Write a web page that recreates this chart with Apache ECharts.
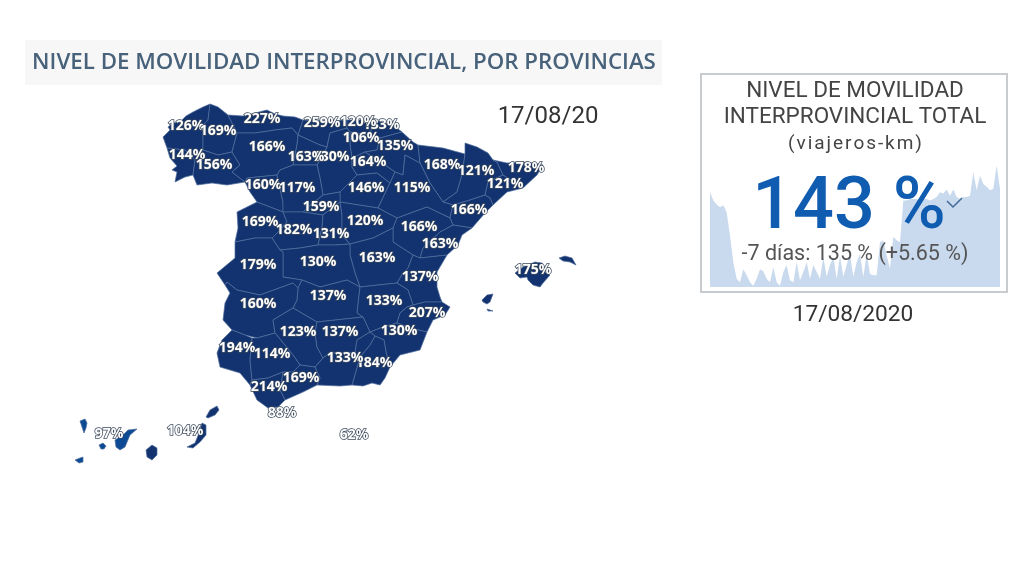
<!DOCTYPE html>
<html>
<head>
<meta charset="utf-8">
<title>Nivel de movilidad interprovincial</title>
<script src="https://cdn.jsdelivr.net/npm/echarts@6/dist/echarts.min.js"></script>
<style>
  html, body { margin: 0; padding: 0; background: #fff; }
  #main { width: 1024px; height: 576px; }
</style>
</head>
<body>
<div id="main"></div>
<script>
// provincias y valores (orden = orden de dibujo de las etiquetas)
var provincias = ['A Coruña', 'Lugo', 'Asturias', 'Cantabria', 'Gipuzkoa', 'Bizkaia', 'Álava', 'Navarra',
    'Pontevedra', 'Ourense', 'León', 'Burgos', 'Palencia', 'La Rioja', 'Huesca', 'Lleida', 'Girona', 'Barcelona',
    'Zamora', 'Valladolid', 'Soria', 'Zaragoza', 'Tarragona', 'Segovia', 'Salamanca', 'Ávila', 'Madrid',
    'Guadalajara', 'Teruel', 'Castellón', 'Cuenca', 'Toledo', 'Cáceres', 'Valencia', 'Ciudad Real', 'Albacete',
    'Badajoz', 'Alicante', 'Córdoba', 'Jaén', 'Murcia', 'Huelva', 'Sevilla', 'Almería', 'Granada', 'Málaga',
    'Cádiz', 'Ceuta', 'Melilla', 'Baleares', 'Santa Cruz de Tenerife', 'Las Palmas'];
var movilidad = [126, 169, 227, 259, 133, 120, 106, 135,
    144, 156, 166, 130, 163, 164, 168, 121, 178, 121,
    160, 117, 146, 115, 166, 159, 169, 182, 131,
    120, 166, 163, 163, 130, 179, 137, 137, 133,
    160, 207, 123, 137, 130, 194, 114, 184, 133, 169,
    214, 88, 62, 175, 97, 104];

var movilidadDiaria = [138, 126, 120, 116, 119, 109, 75, 36, 12, 7, 26, 17, 7, 2, 12, 26, 23, 12, 7, 29, 7, 2,
    22, 32, 10, 7, 36, 10, 22, 36, 12, 32, 22, 12, 44, 15, 32, 44, 12, 45, 15, 32, 48, 15, 36, 48, 15, 48,
    19, 17, 17, 65, 68, 46, 27, 73, 68, 65, 126, 126, 128, 128, 128, 126, 128, 128, 126, 128, 131, 138, 136, 142,
    133, 142, 131, 128, 131, 131, 133, 167, 141, 162, 150, 146, 141, 143, 177, 143];
var diasSerie = movilidadDiaria.map(function (v, i) { return i; });

var tituloMapa = 'NIVEL DE MOVILIDAD INTERPROVINCIAL, POR PROVINCIAS';
var fechaMapa = '17/08/20';
var tituloKpi = ['NIVEL DE MOVILIDAD', 'INTERPROVINCIAL TOTAL', '(\u200Av\u200Ai\u200Aa\u200Aj\u200Ae\u200Ar\u200Ao\u200As\u200A-\u200Ak\u200Am\u200A)'];
var valorKpi = '143 %';
var comparaKpi = '-7 días: 135 % (+5.65 %)';
var fechaKpi = '17/08/2020';

// contornos aproximados de cada provincia, dibujados sobre el lienzo de 1024x576
var contornos = {
    'A Coruña': ['163,137 170,130 168,127 173,123 180,122 186,116 193,112 203,107 210,104 208,120 203,125 203,150 195,160 185,150 167,148'],
    'Lugo': ['210,104 218,107 228,115 237,133 232,152 218,155 203,150 203,125 208,120'],
    'Asturias': ['228,115 243,116 255,113 267,110 275,114 283,116 295,117 303,120 298,135 292,128 275,130 255,133 237,133'],
    'Cantabria': ['303,120 327,121 347,120 347,128 330,133 327,147 320,145 298,135'],
    'Gipuzkoa': ['373,120 393,125 402,132 380,138 370,135'],
    'Bizkaia': ['347,120 373,120 370,135 350,132 347,128'],
    'Álava': ['350,132 370,135 380,138 377,150 365,152 352,158 350,145'],
    'Navarra': ['380,138 402,132 413,142 418,145 420,163 405,155 403,175 395,172 385,165 365,152 377,150'],
    'Pontevedra': ['167,148 185,150 195,160 193,175 185,177 175,182 177,172 172,170 177,166 170,158'],
    'Ourense': ['195,160 203,150 218,155 232,152 240,165 232,172 245,182 227,185 212,183 197,185 193,175'],
    'León': ['237,133 255,133 275,130 292,128 298,135 297,145 293,165 280,170 277,175 247,178 245,182 232,172 240,165 232,152'],
    'Burgos': ['330,133 347,128 350,132 350,145 352,158 352,167 357,175 340,192 323,195 320,178 317,165 327,147'],
    'Palencia': ['298,135 320,145 327,147 317,165 293,165 297,145'],
    'La Rioja': ['352,158 365,152 385,165 395,172 390,183 377,173 357,175 352,167'],
    'Huesca': ['418,145 443,148 465,154 462,175 457,192 443,202 430,183 420,163'],
    'Lleida': ['465,154 465,143 477,147 488,153 493,160 497,162 503,175 488,182 485,195 470,200 453,205 443,202 457,192 462,175'],
    'Girona': ['493,160 507,163 527,162 543,165 540,170 537,175 523,188 503,175 497,162'],
    'Barcelona': ['503,175 523,188 507,192 493,205 490,198 485,195 488,182'],
    'Zamora': ['245,182 247,178 277,175 283,202 283,212 257,202 250,192'],
    'Valladolid': ['293,165 317,165 320,178 323,195 307,208 303,212 283,212 283,202 277,175 280,170'],
    'Soria': ['357,175 377,173 390,183 378,208 340,202 340,192'],
    'Zaragoza': ['420,163 430,183 443,202 453,205 450,218 427,207 397,218 378,208 390,183 395,172 403,175 405,155'],
    'Tarragona': ['453,205 470,200 485,195 490,198 493,205 485,213 472,228 453,225 450,218'],
    'Segovia': ['323,195 340,192 340,202 323,215 303,212 307,208'],
    'Salamanca': ['257,202 283,212 287,222 280,230 272,238 255,238 235,242 238,228 237,212'],
    'Ávila': ['283,212 303,212 323,215 322,228 318,245 300,248 280,250 272,238 280,230 287,222'],
    'Madrid': ['323,215 340,202 342,215 342,235 350,244 335,245 318,245 322,228'],
    'Guadalajara': ['340,202 378,208 397,218 393,228 373,238 350,244 342,235 342,215'],
    'Teruel': ['397,218 427,207 450,218 453,225 440,232 423,248 420,258 413,255 393,242 393,228'],
    'Castellón': ['453,225 472,228 462,235 458,245 447,255 420,258 423,248 440,232'],
    'Cuenca': ['350,244 373,238 393,228 393,242 413,255 408,268 403,273 397,283 378,285 360,287 355,273 350,255'],
    'Toledo': ['283,252 280,250 300,248 318,245 335,245 350,244 350,255 355,273 360,287 347,280 320,287 302,280 283,277'],
    'Cáceres': ['235,242 255,238 272,238 280,250 283,252 283,277 302,280 298,288 293,283 260,295 237,290 227,282 225,285 217,273 235,258'],
    'Valencia': ['413,255 420,258 447,255 437,272 437,287 440,297 442,302 425,302 413,305 408,290 397,283 403,273 408,268'],
    'Ciudad Real': ['302,280 320,287 347,280 360,287 357,313 363,317 317,322 293,308 297,300 298,288'],
    'Albacete': ['360,287 378,285 397,283 408,290 413,305 407,307 400,313 397,323 383,327 370,332 363,317 357,313'],
    'Badajoz': ['225,285 227,282 237,290 260,295 293,283 298,288 297,300 293,308 273,320 275,333 257,338 245,335 232,330 223,320 225,303 230,293'],
    'Alicante': ['413,305 425,302 442,302 450,307 445,315 433,320 427,332 410,328 397,323 400,313 407,307'],
    'Córdoba': ['293,308 317,322 315,333 317,347 323,358 315,367 300,365 293,355 275,333 273,320'],
    'Jaén': ['317,322 363,317 370,332 357,340 355,353 330,353 323,358 317,347 315,333'],
    'Murcia': ['383,327 397,323 410,328 427,332 420,350 400,355 390,367 386,352 384,340 375,336 370,332'],
    'Huelva': ['232,330 245,335 252,338 250,360 252,380 250,385 240,373 220,367 217,353 222,340'],
    'Sevilla': ['252,338 257,338 275,333 293,355 300,365 293,372 283,372 268,378 252,380 250,360'],
    'Almería': ['375,336 384,340 386,352 390,367 385,378 380,385 372,383 363,386 352,385 360,357 370,345'],
    'Granada': ['315,367 323,358 330,353 355,353 357,340 370,332 375,336 370,345 360,357 352,385 340,386 317,385 320,378'],
    'Málaga': ['283,372 293,372 300,365 315,367 320,378 317,385 303,392 285,400 280,390'],
    'Cádiz': ['250,385 252,380 268,378 283,372 280,390 285,400 278,407 268,408 257,400'],
    'Ceuta': ['280,410 282,410 282,412 280,412'],
    'Melilla': ['352,432 354,432 354,434 352,434'],
    'Baleares': ['515,273 523,267 535,262 542,263 545,272 550,275 543,283 540,287 533,285 528,280 527,277 520,278',
        '559,258 565,256 572,258 576,265 570,262 563,261',
        '482,300 487,295 493,294 490,302 487,304 483,302',
        '487,309 493,311 488,311'],
    'Santa Cruz de Tenerife': ['80,421 85,419 87,423 86,428 84,433 82,427',
        '75,460 80,458 83,457 83,462 79,463',
        '99,445 103,443 106,446 104,449 101,449',
        '115,440 123,435 128,430 137,429 130,435 125,447 120,450 116,447'],
    'Las Palmas': ['146,450 152,445 157,448 157,455 152,460 147,457',
        '187,447 195,443 199,433 202,423 206,425 206,435 200,442 193,448',
        '206,417 210,410 217,406 219,410 215,415 208,418']
};

// donde va la etiqueta de cada provincia
var anclas = {
    'A Coruña': [186, 126], 'Lugo': [218, 131], 'Asturias': [262, 119], 'Cantabria': [322, 123], 'Gipuzkoa': [381, 125],
    'Bizkaia': [358, 122], 'Álava': [361, 138], 'Navarra': [395, 146], 'Pontevedra': [187, 155], 'Ourense': [214, 165],
    'León': [267, 147], 'Burgos': [331, 157], 'Palencia': [306, 157], 'La Rioja': [368, 162], 'Huesca': [442, 165],
    'Lleida': [476, 171], 'Girona': [526, 168], 'Barcelona': [505, 184], 'Zamora': [263, 185], 'Valladolid': [297, 188],
    'Soria': [366, 188], 'Zaragoza': [412, 188], 'Tarragona': [469, 210], 'Segovia': [321, 207], 'Salamanca': [260, 222],
    'Ávila': [294, 230], 'Madrid': [331, 234], 'Guadalajara': [365, 221], 'Teruel': [419, 227], 'Castellón': [440, 244],
    'Cuenca': [377, 258], 'Toledo': [318, 262], 'Cáceres': [258, 265], 'Valencia': [420, 277], 'Ciudad Real': [328, 296],
    'Albacete': [384, 301], 'Badajoz': [258, 304], 'Alicante': [427, 313], 'Córdoba': [298, 332], 'Jaén': [340, 332],
    'Murcia': [399, 331], 'Huelva': [237, 348], 'Sevilla': [272, 354], 'Almería': [374, 363], 'Granada': [345, 358],
    'Málaga': [301, 378], 'Cádiz': [269, 387], 'Ceuta': [282, 413], 'Melilla': [354, 435], 'Baleares': [533, 270],
    'Santa Cruz de Tenerife': [109, 434], 'Las Palmas': [185, 431]
};

function anillo(txt) {
    var pts = txt.split(' ').map(function (p) {
        var c = p.split(',');
        return [+c[0], 576 - c[1]];
    });
    pts.push(pts[0]);
    return [pts];
}

var espana = {
    type: 'FeatureCollection',
    features: provincias.map(function (nombre) {
        return {
            type: 'Feature',
            properties: { name: nombre, cp: [anclas[nombre][0], 576 - anclas[nombre][1]] },
            geometry: { type: 'MultiPolygon', coordinates: contornos[nombre].map(anillo) }
        };
    })
};
echarts.registerMap('espana', espana);

var chart = echarts.init(document.getElementById('main'));

function texto(str, x, y, size, color, extra) {
    return {
        type: 'text', x: x, y: y, z: 100, silent: true,
        style: Object.assign({
            text: str, fill: color, align: 'center', verticalAlign: 'middle',
            font: size + 'px Roboto'
        }, extra || {})
    };
}

option = {
    backgroundColor: '#ffffff',
    animation: false,
    grid: { left: 710, right: 24, top: 162, bottom: 289 },
    xAxis: { type: 'category', show: false, boundaryGap: false, data: diasSerie },
    yAxis: { type: 'value', show: false, min: 0, max: 182 },
    visualMap: {
        show: false,
        type: 'piecewise',
        seriesIndex: 0,
        pieces: [
            { lt: 100, color: '#0d4a94' },
            { gte: 100, color: '#12336f' }
        ]
    },
    series: [
        {
            type: 'map',
            map: 'espana',
            silent: true,
            aspectScale: 1,
            boundingCoords: [[0, 576], [1024, 0]],
            left: 0,
            top: 0,
            width: 1024,
            height: 576,
            roam: false,
            selectedMode: false,
            itemStyle: { borderColor: '#4f6d9c', borderWidth: 0.7 },
            emphasis: { disabled: true },
            label: {
                show: true,
                formatter: '{c}%',
                color: '#ffffff',
                fontFamily: 'Open Sans',
                fontWeight: 'bold',
                fontSize: 14,
                textBorderColor: '#3c4a5c',
                textBorderWidth: 1.5
            },
            data: provincias.map(function (nombre, i) {
                return { name: nombre, value: movilidad[i] };
            })
        },
        {
            type: 'line',
            data: movilidadDiaria,
            showSymbol: false,
            silent: true,
            lineStyle: { width: 0 },
            areaStyle: { color: '#c9daee', opacity: 1 }
        }
    ],
    graphic: [
        { type: 'rect', shape: { x: 25, y: 40, width: 637, height: 45 }, style: { fill: '#f7f7f7' }, silent: true },
        texto(tituloMapa, 344, 63, 22, '#47627a', { font: '600 22.3px "Open Sans"' }),
        texto(fechaMapa, 548, 117, 24, '#333333'),
        { type: 'rect', shape: { x: 701, y: 74, width: 306, height: 218 }, style: { fill: 'none', stroke: '#c8cccf', lineWidth: 2 }, silent: true },
        texto(tituloKpi[0], 855, 91, 22.5, '#444444'),
        texto(tituloKpi[1], 855, 117, 22.5, '#444444'),
        texto(tituloKpi[2], 855, 144, 19, '#444444'),
        texto(valorKpi, 849, 210, 72, '#0f5cb0', { font: '500 72px Roboto' }),
        { type: 'polyline', z: 100, silent: true, shape: { points: [[947, 201], [953, 207], [962, 198]] }, style: { fill: 'none', stroke: '#3f6a9a', lineWidth: 1.5 } },
        texto(comparaKpi, 855, 255, 21.5, '#555555'),
        texto(fechaKpi, 853, 315, 22.7, '#333333')
    ]
};
chart.setOption(option);
</script>
</body>
</html>
